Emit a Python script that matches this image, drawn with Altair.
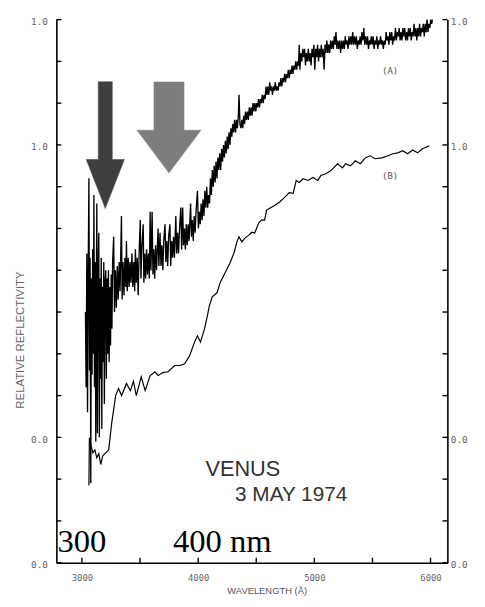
import altair as alt
import pandas as pd

# ---------------- data ----------------
# Curve (A): relative reflectivity on the upper scale (0.0 .. 1.0)
A_WAVE = [
    3030, 3036, 3042, 3048, 3054, 3060, 3065, 3070, 3076, 3081,
    3087, 3092, 3098, 3103, 3108, 3114, 3119, 3124, 3128, 3133,
    3139, 3145, 3150, 3156, 3161, 3166, 3171, 3176, 3182, 3188,
    3193, 3199, 3205, 3210, 3216, 3222, 3228, 3234, 3240, 3246,
    3252, 3258,
    3264, 3273, 3280, 3288, 3296, 3304, 3312, 3320, 3328, 3340,
    3346, 3354, 3362, 3370, 3378, 3383, 3390, 3398, 3406, 3414,
    3422, 3430, 3438, 3446, 3454, 3460, 3468, 3476, 3484, 3492,
    3502, 3508, 3515, 3527, 3533, 3540, 3548, 3556, 3564, 3572,
    3580, 3587, 3594, 3604, 3611, 3618, 3626, 3634, 3642, 3655,
    3662, 3672, 3680, 3688, 3696,
    3704, 3715, 3722, 3730, 3738, 3746, 3757, 3764, 3772, 3780,
    3788, 3796, 3808, 3815, 3823, 3831, 3840, 3851, 3858, 3867,
    3874, 3882, 3890, 3898, 3906, 3914, 3922, 3935, 3942, 3950,
    3958, 3966, 3974, 3982, 3994, 4002,
    4010, 4018, 4026, 4034, 4042, 4050, 4058, 4066, 4074, 4082,
    4090, 4098, 4106, 4114, 4122, 4130, 4138, 4146, 4154, 4162,
    4170, 4178, 4186, 4194, 4202, 4210, 4218, 4226, 4234, 4242,
    4250, 4258, 4266, 4274, 4282, 4290, 4298, 4306, 4314, 4322,
    4330, 4338, 4346, 4352, 4360,
    4368, 4376, 4384, 4392, 4400, 4408, 4416, 4424, 4432, 4440,
    4448, 4456, 4464, 4472, 4480, 4488, 4496, 4504, 4512, 4520,
    4528, 4536, 4544, 4552, 4560, 4568, 4576, 4584, 4592, 4600,
    4608, 4616, 4624, 4632, 4640, 4648, 4656, 4664, 4672, 4680,
    4688, 4696, 4704, 4712, 4720, 4728, 4736, 4744, 4752, 4760,
    4768, 4776, 4784, 4792, 4800, 4808, 4816, 4824, 4832, 4840,
    4848, 4856, 4864, 4870, 4876,
    4884, 4892, 4900, 4908, 4916, 4924, 4932, 4940, 4948, 4956,
    4964, 4972, 4980, 4988, 4996, 5004, 5012, 5020, 5028, 5036,
    5044, 5052, 5060, 5068, 5076, 5084, 5092, 5100, 5108, 5116,
    5124, 5132, 5140, 5148, 5156, 5164, 5172, 5180, 5186, 5194,
    5202, 5210, 5218, 5226, 5234, 5242, 5250, 5258, 5266, 5274,
    5282, 5290, 5298, 5306, 5314, 5322, 5330, 5338, 5346, 5354,
    5362, 5370, 5378, 5386, 5394, 5402, 5410, 5418, 5426, 5434,
    5442, 5450, 5458, 5466, 5474, 5482, 5490, 5498, 5506, 5514,
    5522, 5530, 5538, 5546, 5554, 5562, 5570, 5578, 5586, 5594,
    5602, 5610, 5618, 5626, 5634, 5642, 5650, 5658, 5666, 5674,
    5682, 5690, 5698, 5706, 5714, 5722, 5730, 5738, 5746, 5754,
    5762, 5770, 5778, 5786, 5794, 5802, 5810, 5818, 5826, 5834,
    5842, 5850, 5858, 5866, 5874, 5882, 5890, 5898, 5906, 5914,
    5922, 5930, 5938, 5946, 5954, 5962, 5970, 5978, 5986, 5994,
    6002, 6010, 6016,
]
A_REFL = [
    0.30, 0.12, 0.44, 0.06, 0.40, 0.62, 0.16, 0.43, -0.11, 0.38,
    0.15, 0.45, 0.20, 0.58, 0.12, 0.42, -0.01, 0.35, 0.56, 0.01,
    0.40, 0.49, 0.00, 0.38, 0.14, 0.43, 0.02, 0.36, 0.18, 0.42,
    0.08, 0.37, 0.40, 0.14, 0.38, 0.20, 0.40, 0.18, 0.36, 0.22,
    0.39, 0.26,
    0.42, 0.48, 0.30, 0.40, 0.31, 0.41, 0.33, 0.42, 0.35, 0.53,
    0.33, 0.42, 0.34, 0.43, 0.36, 0.47, 0.35, 0.43, 0.36, 0.42,
    0.37, 0.44, 0.36, 0.42, 0.35, 0.45, 0.37, 0.43, 0.34, 0.44,
    0.52, 0.38, 0.45, 0.51, 0.37, 0.44, 0.38, 0.45, 0.39, 0.44,
    0.38, 0.54, 0.40, 0.54, 0.39, 0.45, 0.38, 0.46, 0.40, 0.50,
    0.41, 0.49, 0.41, 0.46, 0.40,
    0.47, 0.51, 0.42, 0.47, 0.41, 0.48, 0.51, 0.41, 0.47, 0.43,
    0.48, 0.43, 0.53, 0.44, 0.49, 0.44, 0.50, 0.55, 0.45, 0.55,
    0.46, 0.50, 0.45, 0.51, 0.46, 0.51, 0.47, 0.56, 0.48, 0.52,
    0.47, 0.53, 0.49, 0.54, 0.59, 0.50,
    0.54, 0.51, 0.56, 0.52, 0.57, 0.53, 0.59, 0.55, 0.60, 0.55,
    0.58, 0.56, 0.62, 0.58, 0.64, 0.60, 0.65, 0.61, 0.66, 0.62,
    0.67, 0.64, 0.68, 0.64, 0.69, 0.66, 0.70, 0.67, 0.71, 0.68,
    0.72, 0.69, 0.73, 0.70, 0.74, 0.72, 0.75, 0.73, 0.76, 0.73,
    0.76, 0.74, 0.77, 0.82, 0.75,
    0.74, 0.76, 0.74, 0.77, 0.75, 0.78, 0.76, 0.78, 0.76, 0.79,
    0.77, 0.79, 0.77, 0.80, 0.78, 0.80, 0.78, 0.80, 0.79, 0.81,
    0.79, 0.81, 0.80, 0.82, 0.80, 0.82, 0.81, 0.84, 0.82, 0.84,
    0.82, 0.85, 0.83, 0.84, 0.82, 0.84, 0.83, 0.85, 0.83, 0.84,
    0.83, 0.85, 0.84, 0.86, 0.84, 0.86, 0.85, 0.87, 0.85, 0.87,
    0.86, 0.88, 0.86, 0.88, 0.87, 0.89, 0.87, 0.89, 0.88, 0.90,
    0.88, 0.90, 0.89, 0.94, 0.88,
    0.92, 0.90, 0.93, 0.91, 0.93, 0.89, 0.92, 0.90, 0.93, 0.90,
    0.92, 0.89, 0.93, 0.91, 0.94, 0.88, 0.93, 0.91, 0.94, 0.90,
    0.93, 0.91, 0.94, 0.91, 0.93, 0.88, 0.94, 0.92, 0.95, 0.92,
    0.94, 0.92, 0.95, 0.93, 0.95, 0.93, 0.96, 0.94, 0.97, 0.93,
    0.95, 0.93, 0.95, 0.92, 0.95, 0.93, 0.95, 0.93, 0.96, 0.94,
    0.95, 0.93, 0.96, 0.94, 0.96, 0.94, 0.97, 0.94, 0.96, 0.94,
    0.96, 0.93, 0.95, 0.94, 0.96, 0.94, 0.97, 0.95, 0.98, 0.94,
    0.96, 0.94, 0.96, 0.93, 0.95, 0.94, 0.96, 0.94, 0.96, 0.93,
    0.95, 0.94, 0.96, 0.93, 0.95, 0.94, 0.96, 0.94, 0.95, 0.93,
    0.95, 0.94, 0.97, 0.95, 0.96, 0.94, 0.97, 0.95, 0.97, 0.94,
    0.96, 0.95, 0.98, 0.95, 0.97, 0.96, 0.98, 0.95, 0.97, 0.95,
    0.98, 0.96, 0.98, 0.95, 0.97, 0.95, 0.98, 0.96, 0.98, 0.95,
    0.97, 0.96, 0.99, 0.96, 0.98, 0.95, 0.98, 0.96, 0.99, 0.96,
    0.98, 0.97, 0.99, 0.96, 0.99, 0.97, 1.00, 0.97, 0.99, 0.98,
    1.00, 0.99, 1.00,
]

# Curve (B): relative reflectivity on the lower scale (0.0 .. 1.0)
B_WAVE = [
    3060, 3064, 3077, 3094, 3111, 3128, 3145, 3162, 3179, 3205,
    3230, 3256, 3290, 3315, 3341, 3383, 3417, 3443, 3468, 3510,
    3544, 3587, 3629, 3655, 3697, 3740, 3799, 3842, 3884, 3926,
    3969, 3994, 4020, 4054, 4079, 4096, 4122, 4147, 4164, 4190,
    4232, 4275, 4309, 4334, 4351, 4377, 4402, 4436, 4462, 4487,
    4521, 4546, 4572, 4589, 4631, 4657, 4699, 4742, 4784, 4818,
    4844, 4869, 4903, 4946, 4988, 5031, 5056, 5098, 5141, 5166,
    5200, 5243, 5268, 5311, 5353, 5396, 5438, 5481, 5523, 5583,
    5634, 5676, 5718, 5761, 5803, 5846, 5888, 5931, 5990,
]
B_REFL = [
    0.185, 0.299, 0.282, 0.263, 0.270, 0.251, 0.261, 0.235, 0.256, 0.263,
    0.270, 0.334, 0.400, 0.417, 0.400, 0.429, 0.412, 0.434, 0.400, 0.445,
    0.412, 0.448, 0.457, 0.448, 0.455, 0.457, 0.472, 0.472, 0.476, 0.495,
    0.528, 0.543, 0.528, 0.559, 0.590, 0.614, 0.637, 0.642, 0.647, 0.671,
    0.694, 0.718, 0.742, 0.768, 0.780, 0.768, 0.777, 0.784, 0.791, 0.789,
    0.813, 0.820, 0.820, 0.844, 0.851, 0.855, 0.863, 0.874, 0.886, 0.884,
    0.915, 0.910, 0.919, 0.915, 0.922, 0.915, 0.927, 0.931, 0.938, 0.945,
    0.955, 0.945, 0.955, 0.950, 0.962, 0.955, 0.969, 0.974, 0.967, 0.969,
    0.974, 0.979, 0.981, 0.986, 0.979, 0.988, 0.981, 0.991, 0.998,
]
# B's 0.0 sits three tick intervals below A's 0.0 (plot units = A units)
B_ZERO_SHIFT = 0.3

Y_TICKS = [-0.3, -0.2, -0.1, 0.0, 0.1, 0.2, 0.3, 0.4, 0.5, 0.6, 0.7, 0.8, 0.9, 1.0]
Y_LABEL_VALUES = [-0.3, 0.0, 0.7, 1.0]
X_TICKS = [3000, 3500, 4000, 4500, 5000, 5500, 6000]
X_LABEL_VALUES = [3000, 4000, 5000, 6000]

BIG_TEXT = ["300", "400 nm"]
BIG_W = [2790, 3783]
BIG_V = [-0.274, -0.274]

TITLE_TEXT = ["VENUS"]
TITLE_W = [4063]
TITLE_V = [-0.092]

DATE_TEXT = ["3 MAY 1974"]
DATE_W = [4318]
DATE_V = [-0.153]

CURVE_TEXT = ["(A)", "(B)"]
CURVE_W = [5652, 5652]
CURVE_V = [0.877, 0.626]

DARK_ARROW_W = [3201]
DARK_ARROW_V = [0.700]
LIGHT_ARROW_W = [3749]
LIGHT_ARROW_V = [0.742]

assert len(A_WAVE) == len(A_REFL)
assert len(B_WAVE) == len(B_REFL)

# ---------------- chart ----------------
W, H = 396, 550
xs = alt.Scale(domain=[2780, 6145], nice=False, zero=False)
ys = alt.Scale(domain=[-0.3, 1.0], nice=False, zero=False)
label_expr = "datum.value > 0.5 ? '1.0' : '0.0'"

x_axis = alt.Axis(
    orient="bottom", values=X_LABEL_VALUES, format="d", ticks=False, tickSize=0, grid=False,
    domain=True, domainColor="black", domainWidth=1.6,
    labelFont="DejaVu Sans Mono", labelFontSize=9, labelColor="#666666",
    labelPadding=11,
    title="WAVELENGTH (Å)", titleFont="Liberation Sans", titleFontSize=9.5,
    titleFontWeight="normal", titleColor="#555555",
    titleX=213, titleY=28, titleBaseline="middle", titleAlign="center",
)
left_axis = alt.Axis(
    orient="left", values=Y_LABEL_VALUES, labelExpr=label_expr,
    ticks=False, tickSize=0, grid=False,
    domain=True, domainColor="black", domainWidth=1.6,
    labelFont="DejaVu Sans Mono", labelFontSize=9.5, labelColor="#666666",
    labelPadding=9, labelOffset=2,
    title="RELATIVE REFLECTIVITY", titleFont="Liberation Sans", titleFontSize=11.5,
    titleFontWeight="normal", titleColor="#666666",
    titleX=-36, titleY=324, titleBaseline="middle", titleAlign="center",
)
right_axis = alt.Axis(
    orient="right", values=Y_LABEL_VALUES, labelExpr=label_expr,
    ticks=False, tickSize=0, grid=False,
    domain=True, domainColor="black", domainWidth=1.6,
    labelFont="DejaVu Sans Mono", labelFontSize=9.5, labelColor="#666666",
    labelPadding=3, labelOffset=2, title=None,
)

dfA = pd.DataFrame({"w": A_WAVE, "v": A_REFL})
dfB = pd.DataFrame({"w": B_WAVE, "b": B_REFL})
dfYT = pd.DataFrame({"t": Y_TICKS})
dfXT = pd.DataFrame({"t": X_TICKS})


def X(field="w"):
    return alt.X(f"{field}:Q", scale=xs, axis=None)


def Y(field="v"):
    return alt.Y(f"{field}:Q", scale=ys, axis=None)


line_a = alt.Chart(dfA).mark_line(color="black", strokeWidth=1.35).encode(
    x=alt.X("w:Q", scale=xs, axis=x_axis),
    y=alt.Y("v:Q", scale=ys, axis=left_axis),
)
line_b = (
    alt.Chart(dfB)
    .transform_calculate(v=f"datum.b - {B_ZERO_SHIFT}")
    .mark_line(color="black", strokeWidth=1.2)
    .encode(x=X(), y=Y())
)

left_ticks = alt.Chart(dfYT).mark_rule(color="black", strokeWidth=1.4).encode(
    y=Y("t"), x=alt.value(0), x2=alt.value(5)
)
right_ticks = alt.Chart(dfYT).mark_rule(color="black", strokeWidth=1.4).encode(
    y=alt.Y("t:Q", scale=ys, axis=right_axis), x=alt.value(W - 5), x2=alt.value(W)
)
bottom_ticks = alt.Chart(dfXT).mark_rule(color="black", strokeWidth=1.4).encode(
    x=X("t"), y=alt.value(H), y2=alt.value(H - 5)
)

big = alt.Chart(pd.DataFrame({"w": BIG_W, "v": BIG_V, "t": BIG_TEXT})).mark_text(
    font="Liberation Serif", fontSize=33, align="left", baseline="alphabetic", color="black"
).encode(x=X(), y=Y(), text="t:N")

venus = alt.Chart(pd.DataFrame({"w": TITLE_W, "v": TITLE_V, "t": TITLE_TEXT})).mark_text(
    font="Liberation Sans", fontSize=22, align="left", baseline="alphabetic", color="#333333"
).encode(x=X(), y=Y(), text="t:N")

date = alt.Chart(pd.DataFrame({"w": DATE_W, "v": DATE_V, "t": DATE_TEXT})).mark_text(
    font="Liberation Sans", fontSize=21, align="left", baseline="alphabetic", color="#333333"
).encode(x=X(), y=Y(), text="t:N")

curve_labels = alt.Chart(pd.DataFrame({"w": CURVE_W, "v": CURVE_V, "t": CURVE_TEXT})).mark_text(
    font="DejaVu Sans Mono", fontSize=9, align="center", baseline="middle", color="#555555"
).encode(x=X(), y=Y(), text="t:N")

DARK_PATH = "M -0.11 -1 L 0.11 -1 L 0.11 0.23 L 0.3 0.23 L 0 1 L -0.3 0.23 L -0.11 0.23 Z"
LIGHT_PATH = "M -0.33 -1 L 0.33 -1 L 0.33 0.065 L 0.7 0.065 L 0 1 L -0.7 0.065 L -0.33 0.065 Z"

dark_arrow = alt.Chart(pd.DataFrame({"w": DARK_ARROW_W, "v": DARK_ARROW_V})).mark_point(
    shape=DARK_PATH, size=16384, filled=True, color="#3e3e3e", opacity=1,
    stroke="#3e3e3e", strokeWidth=1.2, strokeOpacity=0.5,
).encode(x=X(), y=Y())

light_arrow = alt.Chart(pd.DataFrame({"w": LIGHT_ARROW_W, "v": LIGHT_ARROW_V})).mark_point(
    shape=LIGHT_PATH, size=8464, filled=True, color="#7d7d7d", opacity=1,
    stroke="#7d7d7d", strokeWidth=1.2, strokeOpacity=0.5,
).encode(x=X(), y=Y())

chart = (
    alt.layer(
        line_a, line_b, left_ticks, right_ticks, bottom_ticks,
        big, venus, date, curve_labels, dark_arrow, light_arrow,
    )
    .resolve_axis(x="independent", y="independent")
    .properties(
        width=W, height=H,
        autosize=alt.AutoSizeParams(type="none"),
        padding={"left": 49, "top": 8, "right": 30, "bottom": 31},
        background="white",
    )
    .configure_view(stroke=None)
)

chart.save("out.html", embed_options={"renderer": "svg", "actions": False})
